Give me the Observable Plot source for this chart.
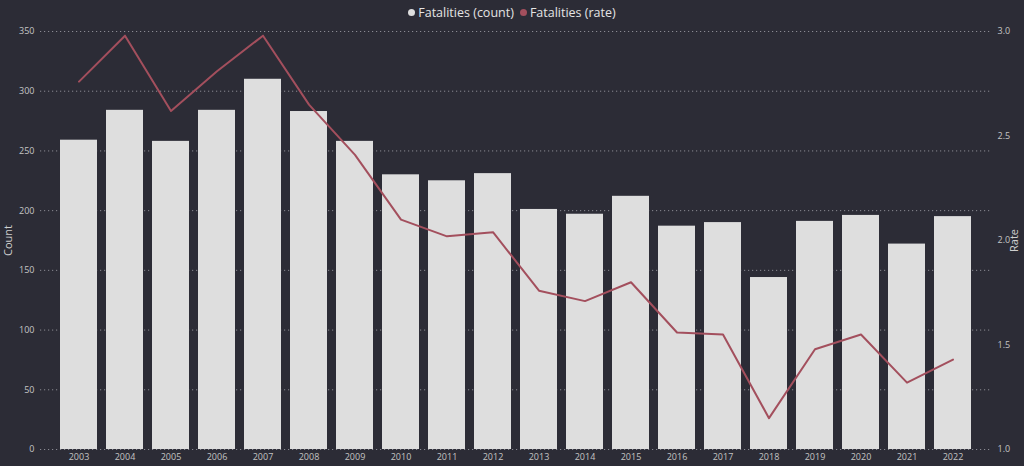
<!DOCTYPE html>
<html><head><meta charset="utf-8">
<script src="https://cdn.jsdelivr.net/npm/d3@7"></script>
<script src="https://cdn.jsdelivr.net/npm/@observablehq/plot@0.6"></script>
<style>
html,body{margin:0;padding:0;background:#2c2c36;}
body{width:1024px;height:466px;overflow:hidden;font-family:"Open Sans",sans-serif;}
#legend{height:22px;display:flex;justify-content:center;align-items:center;gap:6px;color:#e4e4e4;font-size:12.5px;padding-top:3px;box-sizing:border-box;}
.item{display:flex;align-items:center;gap:3px;}
.dot{width:7px;height:7px;border-radius:50%;display:inline-block;}
g[aria-label="y-axis label"] text{font-size:11px;fill:#cfcfcf;}
</style></head><body>
<div id="legend"></div>
<div id="chart"></div>
<script>
const years = ["2003","2004","2005","2006","2007","2008","2009","2010","2011","2012","2013","2014","2015","2016","2017","2018","2019","2020","2021","2022"];
const counts = [259,284,258,284,310,283,258,230,225,231,201,197,212,187,190,144,191,196,172,195];
const rates = [2.76,2.98,2.62,2.81,2.98,2.65,2.41,2.10,2.02,2.04,1.76,1.71,1.80,1.56,1.55,1.15,1.48,1.55,1.32,1.43];
const countTicks = [0,50,100,150,200,250,300,350];
const rateTicks = [1.0,1.5,2.0,2.5,3.0];
const seriesNames = ["Fatalities (count)","Fatalities (rate)"];
const seriesColors = ["#dedede","#a34f5d"];

const countMax = 350, rateMin = 1, rateMax = 3;
const rateToCount = r => (r - rateMin) / (rateMax - rateMin) * countMax;

const data = years.map((y, i) => ({year: y, count: counts[i], rate: rates[i]}));

const legend = document.getElementById("legend");
seriesNames.forEach((n, i) => {
  const it = document.createElement("span");
  it.className = "item";
  it.innerHTML = `<span class="dot" style="background:${seriesColors[i]}"></span><span>${n}</span>`;
  legend.appendChild(it);
});

const tickColor = "#c4c4c4";
const chart = Plot.plot({
  width: 1024,
  height: 444,
  marginTop: 9,
  marginBottom: 17,
  marginLeft: 50,
  marginRight: 43,
  style: {background: "#2c2c36", color: tickColor, fontFamily: "Open Sans, sans-serif", fontSize: "9px"},
  x: {domain: years, padding: 0.2},
  y: {domain: [0, countMax]},
  marks: [
    Plot.ruleY(countTicks, {stroke: "#8a8a92", strokeDasharray: "1.2,2.8", strokeWidth: 1, insetLeft: -10, insetRight: -9}),
    Plot.barY(data, {x: "year", y: "count", fill: seriesColors[0]}),
    Plot.line(data, {x: "year", y: d => rateToCount(d.rate), stroke: seriesColors[1], strokeWidth: 2}),
    Plot.axisX({tickSize: 0, tickPadding: 4, label: null, fontSize: 9}),
    Plot.axisY(countTicks, {anchor: "left", tickSize: 0, tickPadding: 16, label: "Count", labelAnchor: "center", labelArrow: "none", labelOffset: 46, fontSize: 9}),
    Plot.axisY(rateTicks.map(rateToCount), {anchor: "right", tickSize: 0, tickPadding: 16, tickFormat: d => (d / countMax * (rateMax - rateMin) + rateMin).toFixed(1), label: "Rate", labelAnchor: "center", labelArrow: "none", labelOffset: 36, fontSize: 9})
  ]
});
document.getElementById("chart").appendChild(chart);
</script>
</body></html>
